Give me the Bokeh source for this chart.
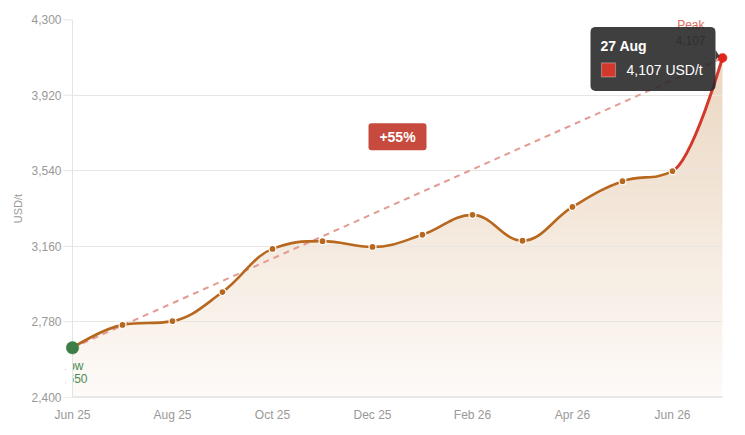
import numpy as np
from bokeh.plotting import figure
from bokeh.models import (Range1d, FixedTicker, BoxAnnotation, Label,
                          PolyAnnotation, NumeralTickFormatter)
from bokeh.core.properties import value
from bokeh.embed import file_html
from bokeh.resources import INLINE

# ---------------- data ----------------
months = ["Jun 25", "Jul 25", "Aug 25", "Sep 25", "Oct 25", "Nov 25", "Dec 25",
          "Jan 26", "Feb 26", "Mar 26", "Apr 26", "May 26", "Jun 26", "Jul 26"]
prices = [2650, 2765, 2784, 2930, 3147, 3186, 3157,
          3218, 3318, 3188, 3358, 3487, 3538, 4107]
x_ticks = [0, 2, 4, 6, 8, 10, 12]
x_tick_labels = ["Jun 25", "Aug 25", "Oct 25", "Dec 25", "Feb 26", "Apr 26", "Jun 26"]
y_ticks = [2400, 2780, 3160, 3540, 3920, 4300]
unit = "USD/t"
peak_date = "27 Aug"
low_text = "Low"
peak_text = "Peak"

FONT = "Liberation Sans"
BROWN = "#b8671e"
RED = "#d2382b"
GREEN = "#3d7d46"
GRID = "#ebebeb"

xs = np.arange(len(prices), dtype=float)
ys = np.array(prices, dtype=float)
n = len(xs)

# inner plotting area (data extent) and small pads so end markers stay whole
IW, FH = 650, 378
PAD_L, PAD_R = 7, 6
ux = (n - 1) / IW
y0, y1 = float(y_ticks[0]), float(y_ticks[-1])
uy = (y1 - y0) / FH
x0 = 0.0 - PAD_L * ux
x1 = float(n - 1) + PAD_R * ux
FW = IW + PAD_L + PAD_R

p = figure(width=744, height=434, frame_width=FW, frame_height=FH,
           x_range=Range1d(x0, x1), y_range=Range1d(y0, y1),
           output_backend="svg", toolbar_location=None,
           min_border_left=65, min_border_right=744 - 65 - FW, min_border_top=19,
           min_border_bottom=37)
p.outline_line_color = None
p.background_fill_color = "white"

# ---------------- spline (Highcharts-like) ----------------
smoothing = 1.5
denom = smoothing + 1
lcx = xs.copy(); lcy = ys.copy(); rcx = xs.copy(); rcy = ys.copy()
for i in range(1, n - 1):
    px, py = xs[i], ys[i]
    lx, ly = xs[i - 1], ys[i - 1]
    nx, ny = xs[i + 1], ys[i + 1]
    lX = (smoothing * px + lx) / denom
    lY = (smoothing * py + ly) / denom
    rX = (smoothing * px + nx) / denom
    rY = (smoothing * py + ny) / denom
    corr = (rY - lY) * (rX - px) / (rX - lX) + py - rY
    lY += corr; rY += corr
    if lY > ly and lY > py:
        lY = max(ly, py); rY = 2 * py - lY
    elif lY < ly and lY < py:
        lY = min(ly, py); rY = 2 * py - lY
    if rY > ny and rY > py:
        rY = max(ny, py); lY = 2 * py - rY
    elif rY < ny and rY < py:
        rY = min(ny, py); lY = 2 * py - rY
    lcx[i], lcy[i], rcx[i], rcy[i] = lX, lY, rX, rY

seg = dict(x0=xs[:-1], y0=ys[:-1], x1=xs[1:], y1=ys[1:],
           cx0=rcx[:-1], cy0=rcy[:-1], cx1=lcx[1:], cy1=lcy[1:])

# sampled curve for area fill
t = np.linspace(0, 1, 30)
cx_all, cy_all = [], []
for i in range(n - 1):
    P0 = (xs[i], ys[i]); P1 = (rcx[i], rcy[i]); P2 = (lcx[i + 1], lcy[i + 1]); P3 = (xs[i + 1], ys[i + 1])
    bx = (1 - t) ** 3 * P0[0] + 3 * (1 - t) ** 2 * t * P1[0] + 3 * (1 - t) * t ** 2 * P2[0] + t ** 3 * P3[0]
    by = (1 - t) ** 3 * P0[1] + 3 * (1 - t) ** 2 * t * P1[1] + 3 * (1 - t) * t ** 2 * P2[1] + t ** 3 * P3[1]
    if i > 0:
        bx, by = bx[1:], by[1:]
    cx_all.append(bx); cy_all.append(by)
cx_all = np.concatenate(cx_all); cy_all = np.concatenate(cy_all)

# gradient fill: stacked layers
top_rgb = np.array([0xe8, 0xd2, 0xba])
bot_rgb = np.array([0xfd, 0xfa, 0xf7])
levels = np.linspace(y0, ys.max(), 45)
for lv in levels:
    f = (lv - y0) / (y1 - y0)
    c = bot_rgb + (top_rgb - bot_rgb) * f
    col = "#%02x%02x%02x" % tuple(int(round(v)) for v in c)
    p.varea(x=cx_all, y1=np.full_like(cy_all, lv), y2=np.maximum(cy_all, lv),
            fill_color=col, fill_alpha=1.0)

# grid lines visible over the fill
p.hspan(y=y_ticks[1:-1], line_color="#e9e6e2", line_width=1)

# low / peak labels
p.text(x=[xs[0]], y=[ys[0]], text=[low_text], text_align="center", text_baseline="top",
       y_offset=11, text_color="#4a8a52", text_font=value(FONT), text_font_size="12px")
p.text(x=[xs[0]], y=[ys[0]], text=[f"{prices[0]:,}"], text_align="center", text_baseline="top",
       y_offset=26, text_color="#4a8a52", text_font=value(FONT), text_font_size="12px")
p.text(x=[xs[-1]], y=[ys[-1]], text=[peak_text], text_align="right", text_baseline="bottom",
       x_offset=-18, y_offset=-26, text_color="#e06a5e", text_font=value(FONT), text_font_size="12px")
p.text(x=[xs[-1]], y=[ys[-1]], text=[f"{prices[-1]:,}"], text_align="right", text_baseline="bottom",
       x_offset=-17, y_offset=-13, text_color="#555555", text_font=value(FONT), text_font_size="12px")

# masks outside the data extent (keep end markers whole, clip the rest)
p.quad(left=[x0, xs[-1]], right=[xs[0], x1], bottom=[y0, y0], top=[y1, y1],
       fill_color="white", line_color=None)
# tick stubs on the left strip
p.segment(x0=[x0] * len(y_ticks), x1=[xs[0]] * len(y_ticks), y0=y_ticks, y1=y_ticks,
          line_color="#e3e3e3", line_width=[1, 1, 1, 1, 1, 2])
# axis lines at the data extent
p.vspan(x=[xs[0]], line_color="#e3e3e3", line_width=1)
p.segment(x0=[xs[0]], x1=[xs[-1]], y0=[y0], y1=[y0], line_color="#d3d3d3", line_width=2)

# trend line from low to peak
p.line(x=[xs[0], xs[-1]], y=[ys[0], ys[-1]], line_color="#e39a92",
       line_width=2, line_dash="6 5")

# curve
p.bezier(x0=seg["x0"][:-1], y0=seg["y0"][:-1], x1=seg["x1"][:-1], y1=seg["y1"][:-1],
         cx0=seg["cx0"][:-1], cy0=seg["cy0"][:-1], cx1=seg["cx1"][:-1], cy1=seg["cy1"][:-1],
         line_color=BROWN, line_width=2.6, line_cap="round")
p.bezier(x0=seg["x0"][-1:], y0=seg["y0"][-1:], x1=seg["x1"][-1:], y1=seg["y1"][-1:],
         cx0=seg["cx0"][-1:], cy0=seg["cy0"][-1:], cx1=seg["cx1"][-1:], cy1=seg["cy1"][-1:],
         line_color=RED, line_width=3, line_cap="round")

# markers
p.scatter(x=xs[1:-1], y=ys[1:-1], size=7, fill_color=BROWN, line_color="white", line_width=1.2)
p.scatter(x=xs[:1], y=ys[:1], size=12.5, fill_color=GREEN, line_color=GREEN, line_width=0.5)
p.scatter(x=xs[-1:], y=ys[-1:], size=9, fill_color="#e0251b", line_color="#e0251b", line_width=0.5)

# +55% badge
pct = round((prices[-1] / prices[0] - 1) * 100)
mid_x = (xs[0] + xs[-1]) / 2
mid_y = (ys[0] + ys[-1]) / 2
badge_y = mid_y + 66 * uy
p.add_layout(BoxAnnotation(left=mid_x - 29 * ux, right=mid_x + 29 * ux,
                           top=badge_y + 13.5 * uy, bottom=badge_y - 13.5 * uy,
                           fill_color="#c64a3d", fill_alpha=1, line_color=None,
                           border_radius=3, level="overlay"))
p.add_layout(Label(x=mid_x, y=badge_y, text=f"+{pct}%", text_align="center",
                   text_baseline="middle", text_color="white", text_font=FONT,
                   text_font_size="14px", text_font_style="bold", level="overlay"))

# tooltip
px_, py_ = xs[-1], ys[-1]
tt_right = px_ - 7 * ux
tt_left = tt_right - 125 * ux
tt_top = py_ + 31 * uy
tt_bot = py_ - 33 * uy
TT = "#2a2a2a"
p.add_layout(BoxAnnotation(left=tt_left, right=tt_right, top=tt_top, bottom=tt_bot,
                           fill_color=TT, fill_alpha=0.9, line_color=None,
                           border_radius=5, level="overlay"))
p.add_layout(PolyAnnotation(xs=[tt_right, tt_right + 4 * ux, tt_right],
                            ys=[py_ + 8 * uy, py_ + 2 * uy, py_ - 2 * uy],
                            fill_color=TT, fill_alpha=0.9, line_color=None, level="overlay"))
p.add_layout(BoxAnnotation(left=tt_left + 11 * ux, right=tt_left + 25 * ux,
                           top=py_ - 5 * uy, bottom=py_ - 19 * uy,
                           fill_color=RED, fill_alpha=1, line_color="white", line_width=1.2,
                           level="overlay"))
p.add_layout(Label(x=tt_left + 10 * ux, y=py_ + 12 * uy, text=peak_date, text_align="left",
                   text_baseline="middle", text_color="white", text_font=FONT,
                   text_font_size="14px", text_font_style="bold", level="overlay"))
p.add_layout(Label(x=tt_left + 36 * ux, y=py_ - 12 * uy, text=f"{prices[-1]:,} {unit}",
                   text_align="left", text_baseline="middle", text_color="white",
                   text_font=FONT, text_font_size="14px", level="overlay"))

# axes
p.xaxis.ticker = FixedTicker(ticks=x_ticks)
p.xaxis.major_label_overrides = {k: v for k, v in zip(x_ticks, x_tick_labels)}
p.xaxis.major_tick_line_color = None
p.xaxis.minor_tick_line_color = None
p.xaxis.axis_line_color = None
p.xaxis.major_label_text_color = "#999999"
p.xaxis.major_label_text_font = FONT
p.xaxis.major_label_text_font_size = "12px"
p.xaxis.major_label_standoff = 4

p.yaxis.ticker = FixedTicker(ticks=y_ticks)
p.yaxis.formatter = NumeralTickFormatter(format="0,0")
p.yaxis.major_tick_line_color = "#e3e3e3"
p.yaxis.major_tick_out = 2
p.yaxis.major_tick_in = 0
p.yaxis.minor_tick_line_color = None
p.yaxis.axis_line_color = None
p.yaxis.major_label_text_color = "#999999"
p.yaxis.major_label_text_font = FONT
p.yaxis.major_label_text_font_size = "12px"
p.yaxis.major_label_standoff = 2
p.yaxis.axis_label = unit
p.yaxis.axis_label_text_font = FONT
p.yaxis.axis_label_text_font_size = "11px"
p.yaxis.axis_label_text_font_style = "normal"
p.yaxis.axis_label_text_color = "#999999"
p.yaxis.axis_label_standoff = 4

p.xgrid.grid_line_color = None
p.ygrid.grid_line_color = GRID

open("out.html", "w").write(file_html(p, INLINE))
